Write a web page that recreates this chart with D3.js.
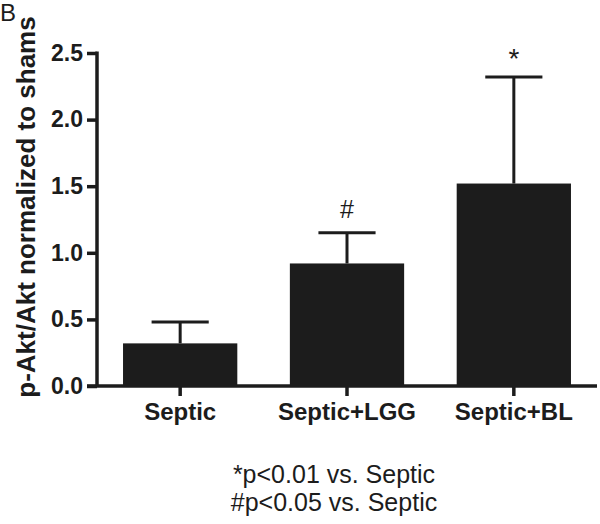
<!DOCTYPE html>
<html><head><meta charset="utf-8">
<script src="https://cdn.jsdelivr.net/npm/d3@7"></script>
<style>body{margin:0;background:#fff}svg{display:block}text{font-family:"Liberation Sans",Arial,sans-serif}</style>
</head><body><svg id="c" width="600" height="524"></svg>
<script>
const categories = ["Septic", "Septic+LGG", "Septic+BL"];
const values = [0.32, 0.92, 1.52];
const errors = [0.16, 0.23, 0.80];
const marks = ["", "#", "*"];
const yTicks = [0.0, 0.5, 1.0, 1.5, 2.0, 2.5];
const footnotes = ["*p<0.01 vs. Septic", "#p<0.05 vs. Septic"];

const svg = d3.select("#c");
const FF = '"Liberation Sans",Arial,sans-serif';
const x0 = 97, x1 = 597, yTop = 53, yBot = 386;
const x = d3.scaleBand().domain(categories).range([x0, x1]).paddingInner(0.315).paddingOuter(0.156);
const y = d3.scaleLinear().domain([0, 2.5]).range([yBot, yTop]);
const ink = "#1c1c1c";

svg.append("text").attr("x", 0).attr("y", 21).attr("font-size", 24).attr("fill", ink).text("B");

// bars
svg.selectAll("rect.bar").data(categories).enter().append("rect")
  .attr("x", d => x(d)).attr("width", x.bandwidth())
  .attr("y", (d, i) => y(values[i])).attr("height", (d, i) => y(0) - y(values[i]))
  .attr("fill", ink);

// error bars
const capW = x.bandwidth() * 0.5;
categories.forEach((c, i) => {
  const cx = x(c) + x.bandwidth() / 2;
  const top = y(values[i] + errors[i]);
  svg.append("line").attr("x1", cx).attr("x2", cx).attr("y1", y(values[i])).attr("y2", top)
    .attr("stroke", ink).attr("stroke-width", 3);
  svg.append("line").attr("x1", cx - capW / 2).attr("x2", cx + capW / 2)
    .attr("y1", top).attr("y2", top)
    .attr("stroke", ink).attr("stroke-width", 3);
  if (marks[i]) {
    svg.append("text").attr("x", cx).attr("y", marks[i] === "*" ? top - 9 : top - 15)
      .attr("text-anchor", "middle").attr("font-size", marks[i] === "*" ? 28 : 25).attr("fill", ink).text(marks[i]);
  }
});

// y axis
const yAxis = svg.append("g").attr("transform", `translate(${x0},0)`)
  .call(d3.axisLeft(y).tickValues(yTicks).tickFormat(d3.format(".1f")).tickSize(10).tickPadding(4));
yAxis.select(".domain").attr("stroke-width", 3.5).attr("stroke", ink).attr("d", `M0,${yTop - 1.5}V${yBot}`);
yAxis.selectAll(".tick line").attr("stroke-width", 3.5).attr("stroke", ink);
yAxis.selectAll(".tick text").attr("font-size", 23).attr("font-weight", "bold").attr("fill", ink)
  .style("font-family", FF);

// x axis
const xAxis = svg.append("g").attr("transform", `translate(0,${yBot})`)
  .call(d3.axisBottom(x).tickSize(10).tickPadding(7));
xAxis.select(".domain").attr("stroke-width", 3.5).attr("stroke", ink).attr("d", `M${x0 - 10},0H${x1}`);
xAxis.selectAll(".tick line").attr("stroke-width", 3.5).attr("stroke", ink);
xAxis.selectAll(".tick text").attr("font-size", 24).attr("font-weight", "bold").attr("fill", ink)
  .style("font-family", FF);

// y label
svg.append("text").attr("transform", "translate(35,207) rotate(-90)").attr("text-anchor", "middle")
  .attr("font-size", 26).attr("font-weight", "bold").attr("fill", ink).text("p-Akt/Akt normalized to shams");

// footnotes
svg.selectAll("text.fn").data(footnotes).enter().append("text").attr("class", "fn")
  .attr("x", 334).attr("y", (d, i) => 483 + i * 28).attr("text-anchor", "middle")
  .attr("font-size", 25).attr("fill", ink).text(d => d);
</script></body></html>
